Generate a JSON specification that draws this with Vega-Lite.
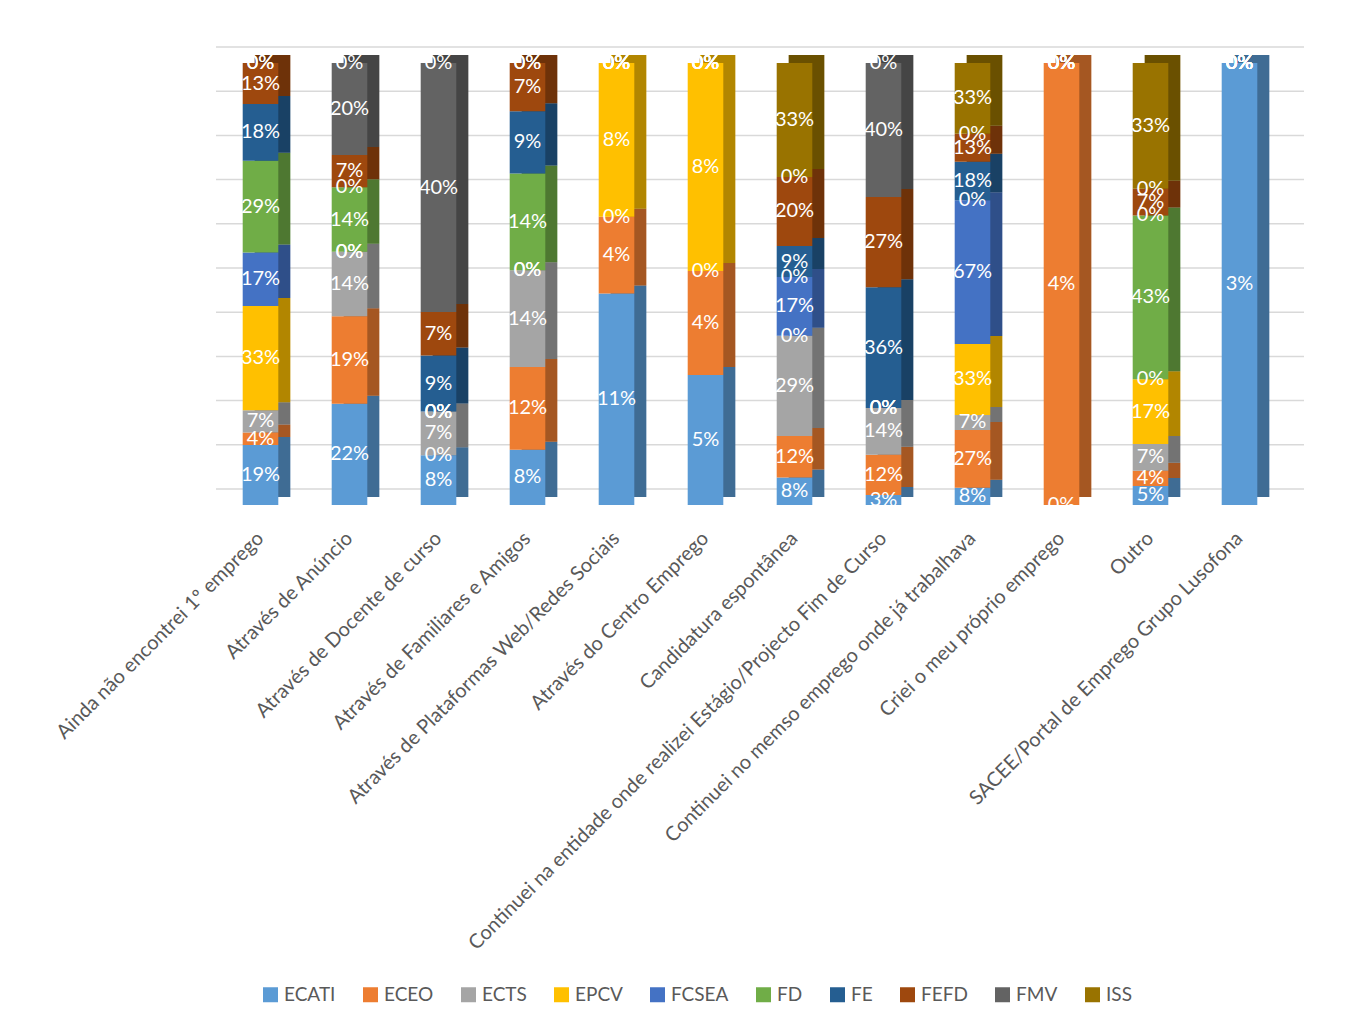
{
  "$schema": "https://vega.github.io/schema/vega-lite/v6.json",
  "autosize": {"type": "none"},
  "padding": {"left": 216, "top": 63, "right": 73, "bottom": 523},
  "width": 1068,
  "height": 442,
  "background": "white",
  "config": {
    "font": "Lato",
    "view": {"stroke": null},
    "axis": {"labelFont": "Lato", "labelColor": "#595959"},
    "legend": {"labelFont": "Lato"}
  },
  "datasets": {
    "grid": [{"g": 0}, {"g": 0.1}, {"g": 0.2}, {"g": 0.3}, {"g": 0.4}, {"g": 0.5}, {"g": 0.6}, {"g": 0.7}, {"g": 0.8}, {"g": 0.9}, {"g": 1}]
  },
  "data": {"values": [
    {"cat": "Ainda não encontrei 1º emprego", "escola": "ECATI", "v": 0.19},
    {"cat": "Ainda não encontrei 1º emprego", "escola": "ECEO", "v": 0.04},
    {"cat": "Ainda não encontrei 1º emprego", "escola": "ECTS", "v": 0.07},
    {"cat": "Ainda não encontrei 1º emprego", "escola": "EPCV", "v": 0.33},
    {"cat": "Ainda não encontrei 1º emprego", "escola": "FCSEA", "v": 0.17},
    {"cat": "Ainda não encontrei 1º emprego", "escola": "FD", "v": 0.29},
    {"cat": "Ainda não encontrei 1º emprego", "escola": "FE", "v": 0.18},
    {"cat": "Ainda não encontrei 1º emprego", "escola": "FEFD", "v": 0.13},
    {"cat": "Ainda não encontrei 1º emprego", "escola": "FMV", "v": 0},
    {"cat": "Ainda não encontrei 1º emprego", "escola": "ISS", "v": 0},
    {"cat": "Através de Anúncio", "escola": "ECATI", "v": 0.22},
    {"cat": "Através de Anúncio", "escola": "ECEO", "v": 0.19},
    {"cat": "Através de Anúncio", "escola": "ECTS", "v": 0.14},
    {"cat": "Através de Anúncio", "escola": "EPCV", "v": 0},
    {"cat": "Através de Anúncio", "escola": "FCSEA", "v": 0},
    {"cat": "Através de Anúncio", "escola": "FD", "v": 0.14},
    {"cat": "Através de Anúncio", "escola": "FE", "v": 0},
    {"cat": "Através de Anúncio", "escola": "FEFD", "v": 0.07},
    {"cat": "Através de Anúncio", "escola": "FMV", "v": 0.20},
    {"cat": "Através de Anúncio", "escola": "ISS", "v": 0},
    {"cat": "Através de Docente de curso", "escola": "ECATI", "v": 0.08},
    {"cat": "Através de Docente de curso", "escola": "ECEO", "v": 0},
    {"cat": "Através de Docente de curso", "escola": "ECTS", "v": 0.07},
    {"cat": "Através de Docente de curso", "escola": "EPCV", "v": 0},
    {"cat": "Através de Docente de curso", "escola": "FCSEA", "v": 0},
    {"cat": "Através de Docente de curso", "escola": "FD", "v": 0},
    {"cat": "Através de Docente de curso", "escola": "FE", "v": 0.09},
    {"cat": "Através de Docente de curso", "escola": "FEFD", "v": 0.07},
    {"cat": "Através de Docente de curso", "escola": "FMV", "v": 0.40},
    {"cat": "Através de Docente de curso", "escola": "ISS", "v": 0},
    {"cat": "Através de Familiares e Amigos", "escola": "ECATI", "v": 0.08},
    {"cat": "Através de Familiares e Amigos", "escola": "ECEO", "v": 0.12},
    {"cat": "Através de Familiares e Amigos", "escola": "ECTS", "v": 0.14},
    {"cat": "Através de Familiares e Amigos", "escola": "EPCV", "v": 0},
    {"cat": "Através de Familiares e Amigos", "escola": "FCSEA", "v": 0},
    {"cat": "Através de Familiares e Amigos", "escola": "FD", "v": 0.14},
    {"cat": "Através de Familiares e Amigos", "escola": "FE", "v": 0.09},
    {"cat": "Através de Familiares e Amigos", "escola": "FEFD", "v": 0.07},
    {"cat": "Através de Familiares e Amigos", "escola": "FMV", "v": 0},
    {"cat": "Através de Familiares e Amigos", "escola": "ISS", "v": 0},
    {"cat": "Através de Plataformas Web/Redes Sociais", "escola": "ECATI", "v": 0.11},
    {"cat": "Através de Plataformas Web/Redes Sociais", "escola": "ECEO", "v": 0.04},
    {"cat": "Através de Plataformas Web/Redes Sociais", "escola": "ECTS", "v": 0},
    {"cat": "Através de Plataformas Web/Redes Sociais", "escola": "EPCV", "v": 0.08},
    {"cat": "Através de Plataformas Web/Redes Sociais", "escola": "FCSEA", "v": 0},
    {"cat": "Através de Plataformas Web/Redes Sociais", "escola": "FD", "v": 0},
    {"cat": "Através de Plataformas Web/Redes Sociais", "escola": "FE", "v": 0},
    {"cat": "Através de Plataformas Web/Redes Sociais", "escola": "FEFD", "v": 0},
    {"cat": "Através de Plataformas Web/Redes Sociais", "escola": "FMV", "v": 0},
    {"cat": "Através de Plataformas Web/Redes Sociais", "escola": "ISS", "v": 0},
    {"cat": "Através do Centro Emprego", "escola": "ECATI", "v": 0.05},
    {"cat": "Através do Centro Emprego", "escola": "ECEO", "v": 0.04},
    {"cat": "Através do Centro Emprego", "escola": "ECTS", "v": 0},
    {"cat": "Através do Centro Emprego", "escola": "EPCV", "v": 0.08},
    {"cat": "Através do Centro Emprego", "escola": "FCSEA", "v": 0},
    {"cat": "Através do Centro Emprego", "escola": "FD", "v": 0},
    {"cat": "Através do Centro Emprego", "escola": "FE", "v": 0},
    {"cat": "Através do Centro Emprego", "escola": "FEFD", "v": 0},
    {"cat": "Através do Centro Emprego", "escola": "FMV", "v": 0},
    {"cat": "Através do Centro Emprego", "escola": "ISS", "v": 0},
    {"cat": "Candidatura espontânea", "escola": "ECATI", "v": 0.08},
    {"cat": "Candidatura espontânea", "escola": "ECEO", "v": 0.12},
    {"cat": "Candidatura espontânea", "escola": "ECTS", "v": 0.29},
    {"cat": "Candidatura espontânea", "escola": "EPCV", "v": 0},
    {"cat": "Candidatura espontânea", "escola": "FCSEA", "v": 0.17},
    {"cat": "Candidatura espontânea", "escola": "FD", "v": 0},
    {"cat": "Candidatura espontânea", "escola": "FE", "v": 0.09},
    {"cat": "Candidatura espontânea", "escola": "FEFD", "v": 0.20},
    {"cat": "Candidatura espontânea", "escola": "FMV", "v": 0},
    {"cat": "Candidatura espontânea", "escola": "ISS", "v": 0.33},
    {"cat": "Continuei na entidade onde realizei Estágio/Projecto Fim de Curso", "escola": "ECATI", "v": 0.03},
    {"cat": "Continuei na entidade onde realizei Estágio/Projecto Fim de Curso", "escola": "ECEO", "v": 0.12},
    {"cat": "Continuei na entidade onde realizei Estágio/Projecto Fim de Curso", "escola": "ECTS", "v": 0.14},
    {"cat": "Continuei na entidade onde realizei Estágio/Projecto Fim de Curso", "escola": "EPCV", "v": 0},
    {"cat": "Continuei na entidade onde realizei Estágio/Projecto Fim de Curso", "escola": "FCSEA", "v": 0},
    {"cat": "Continuei na entidade onde realizei Estágio/Projecto Fim de Curso", "escola": "FD", "v": 0},
    {"cat": "Continuei na entidade onde realizei Estágio/Projecto Fim de Curso", "escola": "FE", "v": 0.36},
    {"cat": "Continuei na entidade onde realizei Estágio/Projecto Fim de Curso", "escola": "FEFD", "v": 0.27},
    {"cat": "Continuei na entidade onde realizei Estágio/Projecto Fim de Curso", "escola": "FMV", "v": 0.40},
    {"cat": "Continuei na entidade onde realizei Estágio/Projecto Fim de Curso", "escola": "ISS", "v": 0},
    {"cat": "Continuei no memso emprego onde já trabalhava", "escola": "ECATI", "v": 0.08},
    {"cat": "Continuei no memso emprego onde já trabalhava", "escola": "ECEO", "v": 0.27},
    {"cat": "Continuei no memso emprego onde já trabalhava", "escola": "ECTS", "v": 0.07},
    {"cat": "Continuei no memso emprego onde já trabalhava", "escola": "EPCV", "v": 0.33},
    {"cat": "Continuei no memso emprego onde já trabalhava", "escola": "FCSEA", "v": 0.67},
    {"cat": "Continuei no memso emprego onde já trabalhava", "escola": "FD", "v": 0},
    {"cat": "Continuei no memso emprego onde já trabalhava", "escola": "FE", "v": 0.18},
    {"cat": "Continuei no memso emprego onde já trabalhava", "escola": "FEFD", "v": 0.13},
    {"cat": "Continuei no memso emprego onde já trabalhava", "escola": "FMV", "v": 0},
    {"cat": "Continuei no memso emprego onde já trabalhava", "escola": "ISS", "v": 0.33},
    {"cat": "Criei o meu próprio emprego", "escola": "ECATI", "v": 0},
    {"cat": "Criei o meu próprio emprego", "escola": "ECEO", "v": 0.04},
    {"cat": "Criei o meu próprio emprego", "escola": "ECTS", "v": 0},
    {"cat": "Criei o meu próprio emprego", "escola": "EPCV", "v": 0},
    {"cat": "Criei o meu próprio emprego", "escola": "FCSEA", "v": 0},
    {"cat": "Criei o meu próprio emprego", "escola": "FD", "v": 0},
    {"cat": "Criei o meu próprio emprego", "escola": "FE", "v": 0},
    {"cat": "Criei o meu próprio emprego", "escola": "FEFD", "v": 0},
    {"cat": "Criei o meu próprio emprego", "escola": "FMV", "v": 0},
    {"cat": "Criei o meu próprio emprego", "escola": "ISS", "v": 0},
    {"cat": "Outro", "escola": "ECATI", "v": 0.05},
    {"cat": "Outro", "escola": "ECEO", "v": 0.04},
    {"cat": "Outro", "escola": "ECTS", "v": 0.07},
    {"cat": "Outro", "escola": "EPCV", "v": 0.17},
    {"cat": "Outro", "escola": "FCSEA", "v": 0},
    {"cat": "Outro", "escola": "FD", "v": 0.43},
    {"cat": "Outro", "escola": "FE", "v": 0},
    {"cat": "Outro", "escola": "FEFD", "v": 0.07},
    {"cat": "Outro", "escola": "FMV", "v": 0},
    {"cat": "Outro", "escola": "ISS", "v": 0.33},
    {"cat": "SACEE/Portal de Emprego Grupo Lusofona", "escola": "ECATI", "v": 0.03},
    {"cat": "SACEE/Portal de Emprego Grupo Lusofona", "escola": "ECEO", "v": 0},
    {"cat": "SACEE/Portal de Emprego Grupo Lusofona", "escola": "ECTS", "v": 0},
    {"cat": "SACEE/Portal de Emprego Grupo Lusofona", "escola": "EPCV", "v": 0},
    {"cat": "SACEE/Portal de Emprego Grupo Lusofona", "escola": "FCSEA", "v": 0},
    {"cat": "SACEE/Portal de Emprego Grupo Lusofona", "escola": "FD", "v": 0},
    {"cat": "SACEE/Portal de Emprego Grupo Lusofona", "escola": "FE", "v": 0},
    {"cat": "SACEE/Portal de Emprego Grupo Lusofona", "escola": "FEFD", "v": 0},
    {"cat": "SACEE/Portal de Emprego Grupo Lusofona", "escola": "FMV", "v": 0},
    {"cat": "SACEE/Portal de Emprego Grupo Lusofona", "escola": "ISS", "v": 0}
  ]},
  "layer": [
    {
      "data": {"name": "grid"},
      "mark": {"type": "rule", "color": "#d9d9d9", "strokeWidth": 1.5, "xOffset": 20, "yOffset": -16},
      "encoding": {
        "y": {"field": "g", "type": "quantitative", "scale": {"domain": [0, 1]}, "title": null,
          "axis": {"labels": false, "ticks": false, "domain": false, "grid": false}}
      }
    },
    {
      "transform": [
        {"stack": "v", "groupby": ["cat"], "sort": [{"field": "escola", "order": "ascending"}], "offset": "normalize", "as": ["y0", "y1"]},
        {"calculate": "(datum.y0 + datum.y1) / 2", "as": "ymid"}
      ],
      "encoding": {
        "x": {
          "field": "cat", "type": "nominal", "sort": null, "title": null,
          "scale": {"paddingInner": 0.6, "paddingOuter": 0.3},
          "axis": {"labelAngle": -45, "labelAlign": "right", "labelBaseline": "middle", "labelFontSize": 20, "labelPadding": 30, "labelDx": -8, "labelLimit": 1000, "ticks": false, "domain": false, "grid": false}
        }
      },
      "layer": [
        {
          "mark": {"type": "bar", "xOffset": 12, "yOffset": -8, "y2Offset": -8},
          "encoding": {
            "y": {"field": "y0", "type": "quantitative"},
            "y2": {"field": "y1"},
            "color": {"field": "escola", "type": "nominal"}
          }
        },
        {
          "mark": {"type": "bar", "xOffset": 12, "yOffset": -8, "y2Offset": -8, "color": "black", "opacity": 0.3},
          "encoding": {
            "y": {"field": "y0", "type": "quantitative"},
            "y2": {"field": "y1"}
          }
        },
        {
          "mark": {"type": "bar"},
          "encoding": {
            "y": {"field": "y0", "type": "quantitative"},
            "y2": {"field": "y1"},
            "color": {
              "field": "escola", "type": "nominal", "title": null,
              "scale": {"domain": ["ECATI", "ECEO", "ECTS", "EPCV", "FCSEA", "FD", "FE", "FEFD", "FMV", "ISS"],
                "range": ["#5B9BD5", "#ED7D31", "#A5A5A5", "#FFC000", "#4472C4", "#70AD47", "#255E91", "#9E480E", "#636363", "#997300"]},
              "legend": {"orient": "none", "direction": "horizontal", "columns": 10, "legendX": 45, "legendY": 922,
                "symbolType": "square", "symbolSize": 225, "symbolStrokeWidth": 0, "labelFontSize": 19, "labelColor": "#595959", "labelOffset": 4, "columnPadding": 25}
            }
          }
        },
        {
          "mark": {"type": "text", "color": "white", "fontSize": 20, "baseline": "middle", "align": "center"},
          "encoding": {
            "y": {"field": "ymid", "type": "quantitative"},
            "text": {"field": "v", "type": "quantitative", "format": ".0%"}
          }
        }
      ]
    }
  ]
}
